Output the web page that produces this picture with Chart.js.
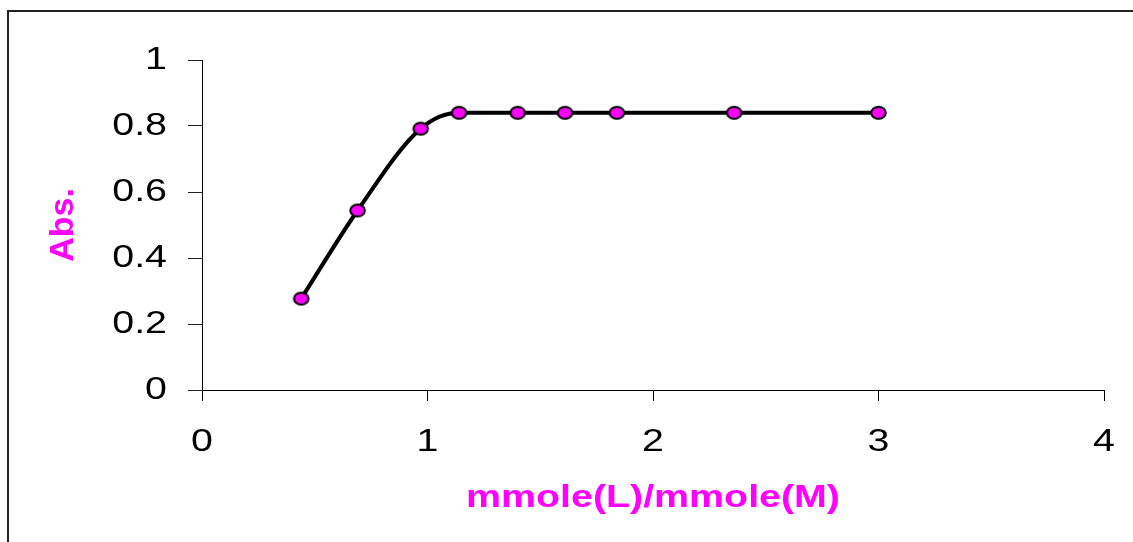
<!DOCTYPE html>
<html>
<head>
<meta charset="utf-8">
<title>Abs. vs mmole(L)/mmole(M)</title>
<script src="https://cdn.jsdelivr.net/npm/chart.js@4/dist/chart.umd.min.js"></script>
<style>
  html, body { margin: 0; padding: 0; background: #fff; overflow: hidden; }
  #wrap { width: 1133px; height: 542px; }
</style>
</head>
<body>
<div id="wrap"><canvas id="chart" width="1133" height="542"></canvas></div>
<script>
// Mole-ratio series: ligand/metal ratio against absorbance
const ratio = [0.44, 0.69, 0.97, 1.14, 1.40, 1.61, 1.84, 2.36, 3.00];
const absorbance = [0.277, 0.544, 0.792, 0.840, 0.840, 0.840, 0.840, 0.840, 0.840];
const xTickValues = [0, 1, 2, 3, 4];
const yTickValues = [0, 0.2, 0.4, 0.6, 0.8, 1];
const xTitle = 'mmole(L)/mmole(M)';
const yTitle = 'Abs.';

const MAGENTA = '#FF00FF';
const FONT = '"Liberation Sans", Arial, sans-serif';
const TEXT_STRETCH = 1.23; // horizontally widened lettering

// Elliptical marker: magenta fill with a black outline
function makeMarker() {
  const c = document.createElement('canvas');
  c.width = 19; c.height = 16;
  const g = c.getContext('2d');
  g.beginPath();
  g.ellipse(9.5, 8, 7.3, 5.9, 0, 0, Math.PI * 2);
  g.fillStyle = MAGENTA;
  g.fill();
  g.lineWidth = 2;
  g.strokeStyle = '#000';
  g.stroke();
  return c;
}
const marker = makeMarker();

// Outer frame around the figure
const framePlugin = {
  id: 'frame',
  beforeDraw(chart) {
    const ctx = chart.ctx;
    ctx.save();
    ctx.fillStyle = '#fff';
    ctx.fillRect(0, 0, chart.width, chart.height);
    ctx.strokeStyle = '#222';
    ctx.lineWidth = 2;
    ctx.strokeRect(8, 11, chart.width + 50, chart.height + 50);
    ctx.restore();
  }
};

// Draw text widened horizontally about its own anchor point
function withStretch(scale, method) {
  const orig = scale[method].bind(scale);
  scale[method] = function (...args) {
    const ctx = this.ctx;
    const fill = ctx.fillText;
    ctx.fillText = function (text, x, y, maxWidth) {
      this.save();
      this.translate(x, y);
      this.scale(TEXT_STRETCH, 1);
      if (maxWidth !== undefined) fill.call(this, text, 0, 0, maxWidth / TEXT_STRETCH);
      else fill.call(this, text, 0, 0);
      this.restore();
    };
    try { orig(...args); } finally { ctx.fillText = fill; }
  };
}
const stretchPlugin = {
  id: 'stretch',
  beforeDraw(chart) {
    const { x, y } = chart.scales;
    if (x && !x._stretched) { withStretch(x, 'drawLabels'); withStretch(x, 'drawTitle'); x._stretched = true; }
    if (y && !y._stretched) { withStretch(y, 'drawLabels'); y._stretched = true; }
  }
};

const xLabels = xTickValues.map(String);
const yLabels = yTickValues.map(v => String(v));

new Chart(document.getElementById('chart'), {
  type: 'line',
  data: {
    datasets: [{
      data: ratio.map((x, i) => ({ x: x, y: absorbance[i] })),
      borderColor: '#000',
      borderWidth: 4,
      cubicInterpolationMode: 'monotone',
      fill: false,
      pointStyle: marker,
      pointRadius: 8,
      pointHoverRadius: 8
    }]
  },
  options: {
    responsive: false,
    animation: false,
    events: [],
    layout: { padding: 0 },
    plugins: { legend: { display: false }, tooltip: { enabled: false } },
    scales: {
      x: {
        type: 'linear',
        min: 0,
        max: 4,
        afterBuildTicks(scale) { scale.ticks = xTickValues.map(v => ({ value: v })); },
        ticks: {
          callback: (v) => xLabels[xTickValues.indexOf(v)] ?? '',
          color: '#000',
          font: { family: FONT, size: 32 },
          padding: 22,
          maxRotation: 0
        },
        grid: { drawOnChartArea: false, tickLength: 11, color: '#000', lineWidth: 1 },
        border: { color: '#000', width: 1 },
        title: {
          display: true,
          text: xTitle,
          color: MAGENTA,
          font: { family: FONT, size: 32, weight: 'bold' },
          padding: { top: 0, bottom: 25 }
        },
        afterFit(scale) { scale.height = 152; scale.paddingRight = 29; scale.paddingLeft = 0; }
      },
      y: {
        type: 'linear',
        min: 0,
        max: 1,
        afterBuildTicks(scale) { scale.ticks = yTickValues.map(v => ({ value: v })); },
        ticks: {
          callback: (v) => yLabels[yTickValues.indexOf(v)] ?? '',
          color: '#000',
          font: { family: FONT, size: 32 },
          padding: 21
        },
        grid: { drawOnChartArea: false, tickLength: 14, color: '#222', lineWidth: 1 },
        border: { color: '#000', width: 1 },
        title: {
          display: true,
          text: yTitle,
          color: MAGENTA,
          font: { family: FONT, size: 34, weight: 'bold' },
          padding: { top: 43, bottom: 0 }
        },
        afterFit(scale) { scale.width = 202; scale.paddingTop = 60; scale.paddingBottom = 0; }
      }
    }
  },
  plugins: [framePlugin, stretchPlugin]
});
</script>
</body>
</html>
